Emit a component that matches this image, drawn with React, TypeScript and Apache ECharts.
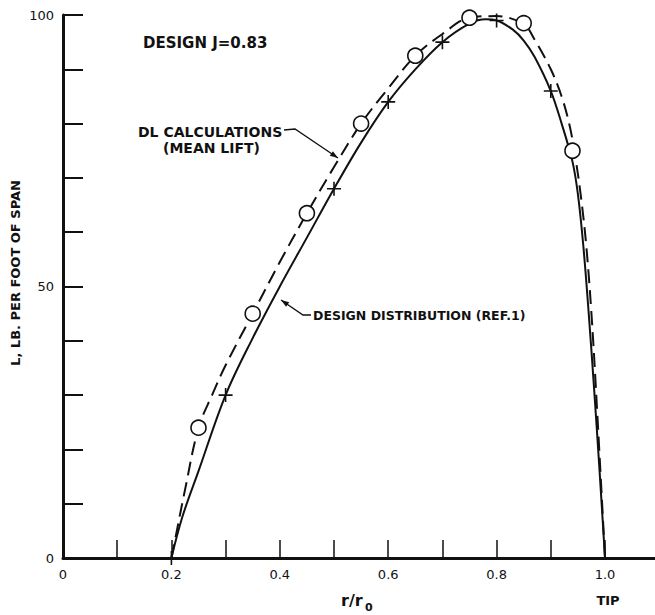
import React, { useEffect, useRef } from "react";
import * as echarts from "echarts";

// Design distribution (Ref. 1) – solid curve
const designR = [0.2, 0.22, 0.25, 0.3, 0.35, 0.4, 0.45, 0.5, 0.55, 0.6, 0.65, 0.7, 0.75, 0.78, 0.8, 0.83, 0.85, 0.87, 0.9, 0.92, 0.94, 0.95, 0.96, 0.97, 0.98, 0.99, 1.0];
const designL = [0, 7.5, 16, 30, 40.5, 50, 59, 68, 76.5, 84, 90, 95, 98.4, 99.2, 99, 97.3, 95.3, 92.3, 86, 80, 73, 67, 57.5, 45, 31, 16, 0];

// DL calculations (mean lift) – dashed curve
const dlR = [0.2, 0.21, 0.225, 0.25, 0.275, 0.3, 0.35, 0.4, 0.45, 0.5, 0.55, 0.6, 0.65, 0.7, 0.75, 0.8, 0.85, 0.87, 0.9, 0.92, 0.935, 0.945, 0.955, 0.965, 0.975, 0.985, 1.0];
const dlL = [0, 5, 12.5, 24, 30, 35.5, 45, 54.5, 63.5, 72, 80, 86.5, 92.5, 96.5, 99.5, 99.8, 98.3, 95.5, 90, 85, 79.5, 74, 67, 58, 45, 28, 0];

// Circle markers (on DL curve)
const circleR = [0.25, 0.35, 0.45, 0.55, 0.65, 0.75, 0.85, 0.94];
const circleL = [24, 45, 63.5, 80, 92.5, 99.5, 98.5, 75];

// Cross markers (on design curve)
const crossR = [0.2, 0.3, 0.5, 0.6, 0.7, 0.8, 0.9];
const crossL = [0, 30, 68, 84, 95, 99, 86];

// Axis ticks / labels
const xTickValues = [0, 0.1, 0.2, 0.3, 0.4, 0.5, 0.6, 0.7, 0.8, 0.9, 1.0];
const xLabelValues = [0, 0.2, 0.4, 0.6, 0.8, 1.0];
const xLabelTexts = ["0", "0.2", "0.4", "0.6", "0.8", "1.0"];
const yLabelValues = [0, 50, 100];

const zip = (a: number[], b: number[]) => a.map((v, i) => [v, b[i]]);

const FONT = "DejaVu Sans";
const INK = "#111";

const PLUS = "path://M6.2,0H7.8V6.2H14V7.8H7.8V14H6.2V7.8H0V6.2H6.2Z";

function arrowHead(tipX: number, tipY: number, tailX: number, tailY: number) {
  const dx = tipX - tailX;
  const dy = tipY - tailY;
  const len = Math.hypot(dx, dy);
  const ux = dx / len;
  const uy = dy / len;
  const nx = -uy;
  const ny = ux;
  const bx = tipX - 8 * ux;
  const by = tipY - 8 * uy;
  return [
    [tipX, tipY],
    [bx + 2.8 * nx, by + 2.8 * ny],
    [bx - 2.8 * nx, by - 2.8 * ny],
  ];
}

export default function App() {
  const ref = useRef<HTMLDivElement>(null);

  useEffect(() => {
    document.body.style.margin = "0";
    if (!ref.current) return;
    const chart = echarts.init(ref.current, undefined, { renderer: "svg" });

    const textStyle = (text: string, size = 14) => ({
      text,
      fill: INK,
      fontFamily: FONT,
      fontSize: size,
      fontWeight: "bold",
      verticalAlign: "middle",
    });

    chart.setOption({
      animation: false,
      backgroundColor: "#fff",
      grid: { left: 63, top: 15, width: 592, height: 543 },
      xAxis: {
        type: "value",
        min: 0,
        max: 592 / 542,
        axisLine: { show: true, lineStyle: { color: INK, width: 3 } },
        axisTick: {
          show: true,
          inside: true,
          length: 18,
          customValues: xTickValues,
          lineStyle: { color: INK, width: 1.5 },
        },
        axisLabel: {
          customValues: xLabelValues,
          formatter: (v: number) => {
            const i = xLabelValues.findIndex((x) => Math.abs(x - v) < 1e-6);
            return i >= 0 ? xLabelTexts[i] : "";
          },
          margin: 10,
          color: INK,
          fontFamily: FONT,
          fontSize: 13,
        },
        splitLine: { show: false },
      },
      yAxis: {
        type: "value",
        min: 0,
        max: 100,
        interval: 10,
        axisLine: { show: true, lineStyle: { color: INK, width: 3 } },
        axisTick: {
          show: true,
          inside: true,
          length: 20,
          lineStyle: { color: INK, width: 2 },
        },
        axisLabel: {
          formatter: (v: number) => (yLabelValues.includes(v) ? String(v) : ""),
          margin: 9,
          color: INK,
          fontFamily: FONT,
          fontSize: 13,
        },
        splitLine: { show: false },
      },
      series: [
        {
          name: "Design distribution (Ref. 1)",
          type: "line",
          data: zip(designR, designL),
          smooth: 0.35,
          showSymbol: false,
          lineStyle: { color: INK, width: 2 },
          z: 2,
        },
        {
          name: "DL calculations (mean lift)",
          type: "line",
          data: zip(dlR, dlL),
          smooth: 0.35,
          showSymbol: false,
          lineStyle: { color: INK, width: 2, type: [14, 7] },
          z: 2,
        },
        {
          name: "DL points",
          type: "scatter",
          data: zip(circleR, circleL),
          symbol: "circle",
          symbolSize: 15,
          itemStyle: { color: "#fff", borderColor: INK, borderWidth: 1.6, opacity: 1 },
          z: 5,
        },
        {
          name: "Design points",
          type: "scatter",
          data: zip(crossR, crossL),
          symbol: PLUS,
          symbolSize: 14,
          itemStyle: { color: INK, opacity: 1 },
          z: 5,
        },
      ],
      graphic: [
        { type: "text", x: 143, y: 43, style: textStyle("DESIGN J=0.83", 15) },
        { type: "text", x: 138, y: 132, style: textStyle("DL CALCULATIONS", 14) },
        { type: "text", x: 163, y: 148, style: textStyle("(MEAN LIFT)", 14) },
        {
          type: "polyline",
          shape: { points: [[284, 130], [295, 129], [338, 158]] },
          style: { stroke: INK, lineWidth: 1.3, fill: "none" },
        },
        {
          type: "polygon",
          shape: { points: arrowHead(338, 158, 295, 129) },
          style: { fill: INK },
        },
        { type: "text", x: 313, y: 315, style: textStyle("DESIGN DISTRIBUTION (REF.1)", 12.5) },
        {
          type: "polyline",
          shape: { points: [[281, 300], [303, 315], [311, 315]] },
          style: { stroke: INK, lineWidth: 1.3, fill: "none" },
        },
        {
          type: "polygon",
          shape: { points: arrowHead(281, 300, 303, 315) },
          style: { fill: INK },
        },
        {
          type: "text",
          x: 15,
          y: 273,
          rotation: Math.PI / 2,
          style: { ...textStyle("L, LB. PER FOOT OF SPAN", 13), align: "center" },
        },
        { type: "text", x: 341, y: 600, style: textStyle("r/r", 16) },
        { type: "text", x: 365, y: 607, style: textStyle("0", 11) },
        { type: "text", x: 608, y: 600, style: { ...textStyle("TIP", 13), align: "center" } },
      ],
    });

    return () => chart.dispose();
  }, []);

  return <div ref={ref} style={{ width: 655, height: 615 }} />;
}
